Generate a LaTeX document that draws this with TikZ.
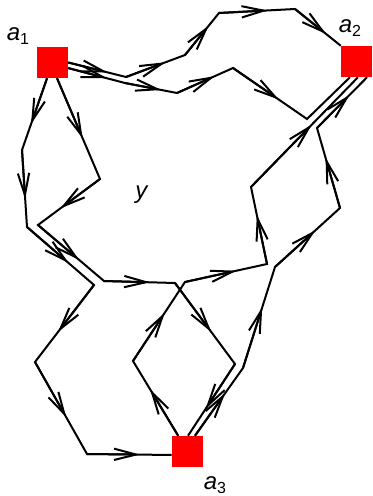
\documentclass[tikz,border=0pt]{standalone}
\usepackage{fontspec}
\newfontfamily\labfont{Liberation Sans}
\usetikzlibrary{arrows.meta,decorations.pathreplacing,decorations.markings,calc}
\begin{document}
\begin{tikzpicture}[x=0.75pt,y=-0.75pt,
  edge/.style={line width=1.5pt, line join=miter},
  midarr/.style={postaction={decorate,decoration={show path construction,
     lineto code={\draw[line width=1.5pt,-{Straight Barb[length=16.5pt,width=8.5pt]}]
       (\tikzinputsegmentfirst) --
       ($(\tikzinputsegmentfirst)!0.5!(\tikzinputsegmentlast)!8pt!(\tikzinputsegmentlast)$);}}}},
  sq/.style={fill=red, minimum size=23.25pt, inner sep=0pt, draw=none},
  lab/.style={font=\labfont\fontsize{18}{18}\selectfont, inner sep=0pt}]
\useasboundingbox (0,0) rectangle (372,496);
% squares
\node[sq] (a1) at (52.5,62.5) {};
\node[sq] (a2) at (356.5,61.5) {};
\node[sq] (a3) at (187.5,451.5) {};
% labels
\node[lab] (la1) at (18,36) {\textit{a}\raisebox{-3pt}{\fontsize{12}{12}\selectfont 1}};
\node[lab] (la2) at (350,28) {\textit{a}\raisebox{-3pt}{\fontsize{12}{12}\selectfont 2}};
\node[lab] (la3) at (215,485) {\textit{a}\raisebox{-3pt}{\fontsize{12}{12}\selectfont 3}};
\node[lab] (ly) at (142,195) {\textit{y}};
% bend points
\coordinate (A1) at (126,77);
\coordinate (A2) at (185,55);
\coordinate (A3) at (219,13);
\coordinate (A4) at (295,9);
\coordinate (B1) at (125,83);
\coordinate (B2) at (177,93);
\coordinate (B3) at (233,68);
\coordinate (B4) at (307,119);
\coordinate (C1) at (22,150);
\coordinate (C2) at (27,227);
\coordinate (C3) at (94,285);
\coordinate (C4) at (35,362);
\coordinate (C5) at (87,454);
\coordinate (D1) at (100,179);
\coordinate (D2) at (38,225);
\coordinate (D3) at (104,281);
\coordinate (D4) at (175,283);
\coordinate (D5) at (235,364);
\coordinate (E1) at (243,368);
\coordinate (E2) at (275,267);
\coordinate (E3) at (340,208);
\coordinate (E4) at (317,128);
\coordinate (F1) at (133,361);
\coordinate (F2) at (185,282);
\coordinate (F3) at (267,264);
\coordinate (F4) at (251,187);
% paths
\draw[edge,midarr] (a1.east) -- (A1) -- (A2) -- (A3) -- (A4) -- (a2.north west);
\draw[edge] ([yshift=-4.2pt]a1.east) -- (B1) -- (B2) -- (B3) -- (B4) -- ([xshift=-4.9pt]a2.south);
\path[midarr] ([yshift=-4.2pt]a1.east) -- (B1) -- (B2) -- (B3) -- (B4);
\draw[edge,midarr] ([xshift=-4.1pt]a1.south) -- (C1) -- (C2) -- (C3) -- (C4) -- (C5) -- ([yshift=-2.6pt]a3.west);
\draw[edge,midarr] ([xshift=3.4pt]a1.south) -- (D1) -- (D2) -- (D3) -- (D4) -- (D5) -- ([xshift=0.4pt]a3.north);
\draw[edge,midarr] ([xshift=5.6pt]a3.north) -- (E1) -- (E2) -- (E3) -- (E4) -- ([xshift=7.9pt]a2.south);
\draw[edge,midarr] ([xshift=-7pt]a3.north) -- (F1) -- (F2) -- (F3) -- (F4) -- ([xshift=1.1pt]a2.south);
\end{tikzpicture}
\end{document}
